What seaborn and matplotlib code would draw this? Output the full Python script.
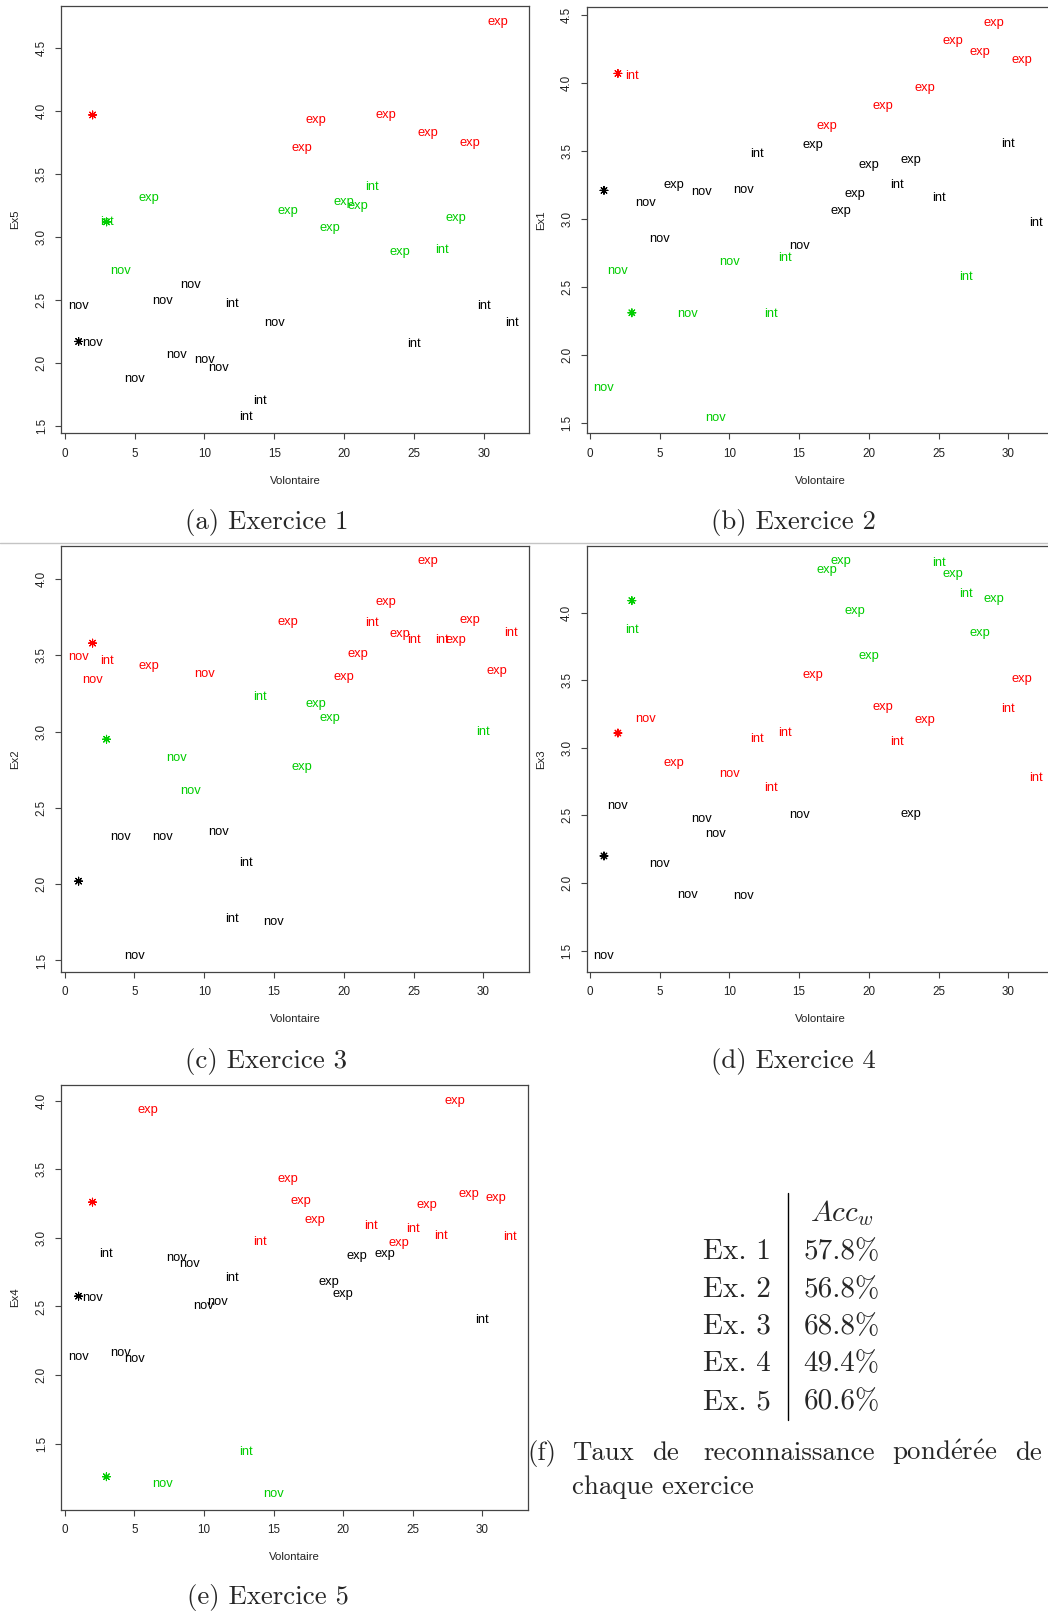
import matplotlib
matplotlib.use("Agg")
import matplotlib.pyplot as plt
from matplotlib.lines import Line2D
from matplotlib.ticker import MultipleLocator, FormatStrFormatter
import seaborn as sns
import pandas as pd

sns.set_style("white")
plt.rcParams["font.family"] = ["Liberation Sans", "DejaVu Sans"]
plt.rcParams["mathtext.fontset"] = "cm"

W, H = 1048, 1612

# volontaires 1..32 et leur niveau (le meme pour chaque exercice)
volontaire = list(range(1, 33))
niveau = ["nov", "nov", "int", "nov", "nov", "exp", "nov", "nov", "nov", "nov",
          "nov", "int", "int", "int", "nov", "exp", "exp", "exp", "exp", "exp",
          "exp", "int", "exp", "exp", "int", "exp", "int", "exp", "exp", "int",
          "exp", "int"]

# centres des groupes (x = numero du groupe)
centre_x = [1, 2, 3]
centre_groupe = ["k", "r", "g"]

# (a) Ex5
ex5 = [2.455, 2.16, 3.12, 2.73, 1.87, 3.31, 2.49, 2.06, 2.62, 2.02,
       1.96, 2.47, 1.566, 1.70, 2.32, 3.21, 3.71, 3.93, 3.07, 3.28,
       3.25, 3.40, 3.97, 2.88, 2.15, 3.83, 2.90, 3.15, 3.75, 2.455,
       4.71, 2.32]
ex5_groupe = ["k", "k", "g", "g", "k", "g", "k", "k", "k", "k",
              "k", "k", "k", "k", "k", "g", "r", "r", "g", "g",
              "g", "g", "r", "g", "k", "r", "g", "g", "r", "k",
              "r", "k"]
ex5_centres = [2.17, 3.97, 3.12]

# (b) Ex1
ex1 = [1.755, 2.62, 4.05, 3.12, 2.85, 3.25, 2.30, 3.20, 1.54, 2.685,
       3.21, 3.48, 2.30, 2.71, 2.80, 3.54, 3.68, 3.06, 3.18, 3.40,
       3.83, 3.25, 3.43, 3.96, 3.155, 4.31, 2.575, 4.23, 4.44, 3.55,
       4.17, 2.97]
ex1_groupe = ["g", "g", "r", "k", "k", "k", "g", "k", "g", "g",
              "k", "k", "g", "g", "k", "k", "r", "k", "k", "k",
              "r", "k", "k", "r", "k", "r", "g", "r", "r", "k",
              "r", "k"]
ex1_centres = [3.21, 4.07, 2.31]

# (c) Ex2
ex2 = [3.49, 3.34, 3.46, 2.31, 1.53, 3.43, 2.31, 2.83, 2.61, 3.38,
       2.34, 1.77, 2.14, 3.225, 1.75, 3.72, 2.77, 3.18, 3.09, 3.36,
       3.51, 3.71, 3.85, 3.64, 3.60, 4.115, 3.60, 3.60, 3.73, 2.995,
       3.40, 3.645]
ex2_groupe = ["r", "r", "r", "k", "k", "r", "k", "g", "g", "r",
              "k", "k", "k", "g", "k", "r", "g", "g", "g", "r",
              "r", "r", "r", "r", "r", "r", "r", "r", "r", "g",
              "r", "r"]
ex2_centres = [2.02, 3.58, 2.95]

# (d) Ex3
ex3 = [1.46, 2.57, 3.87, 3.215, 2.14, 2.89, 1.91, 2.47, 2.36, 2.81,
       1.90, 3.065, 2.70, 3.11, 2.50, 3.54, 4.32, 4.38, 4.01, 3.68,
       3.30, 3.04, 2.51, 3.205, 4.37, 4.29, 4.14, 3.85, 4.10, 3.29,
       3.51, 2.78]
ex3_groupe = ["k", "k", "g", "r", "k", "r", "k", "k", "k", "r",
              "k", "r", "r", "r", "k", "r", "g", "g", "g", "g",
              "r", "r", "k", "r", "g", "g", "g", "g", "g", "r",
              "r", "r"]
ex3_centres = [2.20, 3.11, 4.09]

# (e) Ex4
ex4 = [2.13, 2.56, 2.885, 2.16, 2.12, 3.93, 1.205, 2.85, 2.81, 2.50,
       2.53, 2.71, 1.44, 2.97, 1.135, 3.43, 3.27, 3.13, 2.68, 2.59,
       2.87, 3.085, 2.88, 2.96, 3.065, 3.24, 3.015, 4.00, 3.32, 2.40,
       3.29, 3.005]
ex4_groupe = ["k", "k", "k", "k", "k", "r", "g", "k", "k", "k",
              "k", "k", "g", "r", "g", "r", "r", "r", "k", "k",
              "k", "r", "k", "r", "r", "r", "r", "r", "r", "k",
              "r", "r"]
ex4_centres = [2.575, 3.26, 1.26]

# tableau (f)
exercices = ["Ex. 1", "Ex. 2", "Ex. 3", "Ex. 4", "Ex. 5"]
acc_w = [57.8, 56.8, 68.8, 49.4, 60.6]

couleurs = {"k": "black", "r": "#ff0000", "g": "#00cd00"}


def px_rect(left, top, right, bottom):
    return [left / W, 1 - bottom / H, (right - left) / W, (bottom - top) / H]


def panneau(box, y, groupe, centres, ylab):
    ax = fig.add_axes(px_rect(*box))
    df = pd.DataFrame({"Volontaire": volontaire, "y": y, "niveau": niveau, "groupe": groupe})
    for _, r in df.iterrows():
        ax.text(r["Volontaire"], r["y"], r["niveau"], color=couleurs[r["groupe"]],
                ha="center", va="center", fontsize=9.3)
    cdf = pd.DataFrame({"Volontaire": centre_x, "y": centres, "groupe": centre_groupe})
    sns.scatterplot(data=cdf, x="Volontaire", y="y", hue="groupe", palette=couleurs,
                    marker=(8, 2, 0), s=32, linewidth=0.8, legend=False, ax=ax)
    allv = list(y) + list(centres)
    lo, hi = min(allv), max(allv)
    pad = 0.04 * (hi - lo)
    ax.set_ylim(lo - pad, hi + pad)
    ax.set_xlim(-0.24, 33.24)
    ax.xaxis.set_major_locator(MultipleLocator(5))
    ax.yaxis.set_major_locator(MultipleLocator(0.5))
    ax.yaxis.set_major_formatter(FormatStrFormatter("%.1f"))
    ax.tick_params(direction="out", length=4.3, width=0.8, color="#444444",
                   labelsize=8.4, labelcolor="#222222", bottom=True, left=True)
    ax.tick_params(axis="x", pad=6)
    ax.tick_params(axis="y", pad=5.4, labelrotation=90)
    for lab in ax.get_yticklabels():
        lab.set_va("center")
    for s in ax.spines.values():
        s.set_color("#444444")
        s.set_linewidth(0.9)
    ax.set_xlabel("Volontaire", fontsize=8.2, color="#222222")
    ax.set_ylabel(ylab, fontsize=8.2, color="#222222")
    wpx = box[2] - box[0]
    hpx = box[3] - box[1]
    ax.xaxis.set_label_coords(0.5, -42.6 / hpx)
    ax.yaxis.set_label_coords(-40.7 / wpx, 0.5)
    return ax


fig = plt.figure(figsize=(W / 100, H / 100), dpi=100)

panneau((61.3, 6, 529.3, 433.3), ex5, ex5_groupe, ex5_centres, "Ex5")
panneau((586.7, 7.3, 1053.4, 433.3), ex1, ex1_groupe, ex1_centres, "Ex1")
panneau((61.3, 545.7, 528.6, 971.7), ex2, ex2_groupe, ex2_centres, "Ex2")
panneau((586.7, 545.7, 1053.4, 971.7), ex3, ex3_groupe, ex3_centres, "Ex3")
panneau((61.3, 1084.8, 527.5, 1509.6), ex4, ex4_groupe, ex4_centres, "Ex4")

# ligne de separation grise
fig.add_artist(Line2D([0, 1], [1 - 542.7 / H, 1 - 542.7 / H], color="#c4c4c4", lw=1.0))

serif = "cmr10"
fs_leg = 19.3
fs_tab = 21.0
legendes = [("(a) Exercice 1", 266.5, 529.3), ("(b) Exercice 2", 793, 529.3),
            ("(c) Exercice 3", 266.5, 1068.3), ("(d) Exercice 4", 793, 1068.3),
            ("(e) Exercice 5", 267.5, 1604)]
for txt, x, yb in legendes:
    fig.text(x / W, 1 - yb / H, txt, family=serif, fontsize=fs_leg,
             ha="center", va="baseline")

# tableau
fig.text(841.5 / W, 1 - 1221 / H, r"$Acc_w$", fontsize=fs_tab, ha="center", va="baseline")
lignes = [1259, 1296.7, 1334, 1371.3, 1409]
for ex, v, yb in zip(exercices, acc_w, lignes):
    fig.text(771 / W, 1 - yb / H, ex, family=serif, fontsize=fs_tab, ha="right", va="baseline")
    fig.text(841.5 / W, 1 - yb / H, f"{v:.1f}%", family=serif, fontsize=fs_tab,
             ha="center", va="baseline")
fig.add_artist(Line2D([788.3 / W, 788.3 / W], [1 - 1193 / H, 1 - 1420 / H], color="black", lw=1.0))

mots = [("(f)", 527), ("Taux", 571.7), ("de", 652.3), ("reconnaissance", 703.3),
        (r"$\mathrm{pond\acute{e}r\acute{e}e}$", 891.7), ("de", 1015)]
for m, x in mots:
    fig.text(x / W, 1 - 1460 / H, m, family=serif, fontsize=fs_leg, ha="left", va="baseline")
fig.text(571.7 / W, 1 - 1494 / H, "chaque exercice", family=serif, fontsize=fs_leg,
         ha="left", va="baseline")

fig.savefig("out.png", dpi=100)
